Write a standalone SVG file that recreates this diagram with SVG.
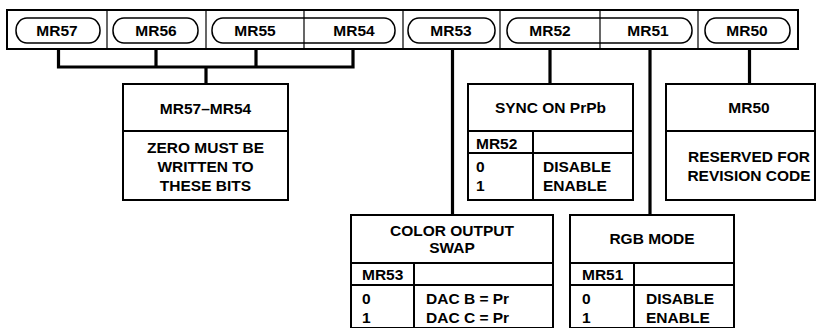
<svg xmlns="http://www.w3.org/2000/svg" width="822" height="328" viewBox="0 0 822 328">
<style>
text{font-family:"Liberation Sans",Arial,sans-serif;font-weight:bold;font-size:15.5px;fill:#000}
.c{text-anchor:middle}
.box{fill:#fff;stroke:#000;stroke-width:2}
.ln{stroke:#000;stroke-width:2;fill:none}
.thin{stroke:#000;stroke-width:1.2;fill:none}
.pill{fill:none;stroke:#000;stroke-width:1.5}
.con{stroke:#000;stroke-width:3.2;fill:none;stroke-linecap:square}
</style>
<rect x="0" y="0" width="822" height="328" fill="#fff"/>
<g id="register">
<rect x="7" y="10" width="791" height="39" fill="#fff" stroke="#000" stroke-width="2"/>
<line class="thin" x1="107" y1="10" x2="107" y2="49"/>
<line class="thin" x1="206" y1="10" x2="206" y2="49"/>
<line class="thin" x1="403" y1="10" x2="403" y2="49"/>
<line class="thin" x1="500" y1="10" x2="500" y2="49"/>
<line class="thin" x1="698" y1="10" x2="698" y2="49"/>
<rect class="pill" x="16" y="18" width="84" height="25" rx="11" ry="12"/>
<rect class="pill" x="113" y="18" width="85" height="25" rx="11" ry="12"/>
<rect class="pill" x="212" y="18" width="183" height="25" rx="11" ry="12"/>
<rect class="pill" x="408" y="18" width="87" height="25" rx="11" ry="12"/>
<rect class="pill" x="507" y="18" width="185" height="25" rx="11" ry="12"/>
<rect class="pill" x="705" y="18" width="85" height="25" rx="11" ry="12"/>
<line class="thin" x1="304" y1="10" x2="304" y2="49"/>
<line class="thin" x1="600" y1="10" x2="600" y2="49"/>
<text class="c" x="57" y="36">MR57</text>
<text class="c" x="156" y="36">MR56</text>
<text class="c" x="255" y="36">MR55</text>
<text class="c" x="354" y="36">MR54</text>
<text class="c" x="451" y="36">MR53</text>
<text class="c" x="550" y="36">MR52</text>
<text class="c" x="648" y="36">MR51</text>
<text class="c" x="747" y="36">MR50</text>
</g>
<g id="connectors">
<path class="con" d="M58.5 50V67H353V50M156 50V67M256 50V67M206 67V84"/>
<path class="con" d="M452.5 50V215"/>
<path class="con" d="M550 50V84"/>
<path class="con" d="M650 50V215"/>
<path class="con" d="M749.5 50V84"/>
</g>
<g id="box-mr57-54">
<rect class="box" x="123" y="84" width="165" height="116"/>
<line class="ln" x1="123" y1="131" x2="288" y2="131"/>
<text class="c" x="205.5" y="114">MR57–MR54</text>
<text class="c" x="205.5" y="153">ZERO MUST BE</text>
<text class="c" x="205.5" y="172">WRITTEN TO</text>
<text class="c" x="205.5" y="191">THESE BITS</text>
</g>
<g id="box-sync">
<rect class="box" x="468" y="84" width="165" height="116"/>
<line class="ln" x1="468" y1="131" x2="633" y2="131"/>
<line class="ln" x1="468" y1="153" x2="633" y2="153"/>
<line class="ln" x1="533" y1="131" x2="533" y2="200"/>
<text class="c" x="550.5" y="113">SYNC ON PrPb</text>
<text x="476" y="149">MR52</text>
<text x="476" y="172">0</text>
<text x="476" y="191">1</text>
<text x="543" y="172">DISABLE</text>
<text x="543" y="191">ENABLE</text>
</g>
<g id="box-mr50">
<rect class="box" x="666" y="84" width="149" height="116"/>
<line class="ln" x1="666" y1="131" x2="815" y2="131"/>
<text class="c" x="749" y="113">MR50</text>
<text class="c" x="749" y="162">RESERVED FOR</text>
<text class="c" x="749" y="181">REVISION CODE</text>
</g>
<g id="box-color">
<rect class="box" x="351" y="215" width="202" height="113"/>
<line class="ln" x1="351" y1="263" x2="553" y2="263"/>
<line class="ln" x1="351" y1="285" x2="553" y2="285"/>
<line class="ln" x1="414" y1="263" x2="414" y2="328"/>
<text class="c" x="452" y="236">COLOR OUTPUT</text>
<text class="c" x="452" y="253">SWAP</text>
<text x="362" y="280">MR53</text>
<text x="362" y="304">0</text>
<text x="362" y="323">1</text>
<text x="426" y="304">DAC B = Pr</text>
<text x="426" y="323">DAC C = Pr</text>
</g>
<g id="box-rgb">
<rect class="box" x="570" y="215" width="164" height="113"/>
<line class="ln" x1="570" y1="263" x2="734" y2="263"/>
<line class="ln" x1="570" y1="285" x2="734" y2="285"/>
<line class="ln" x1="634" y1="263" x2="634" y2="328"/>
<text class="c" x="652" y="244">RGB MODE</text>
<text x="582" y="280">MR51</text>
<text x="582" y="304">0</text>
<text x="582" y="323">1</text>
<text x="646" y="304">DISABLE</text>
<text x="646" y="323">ENABLE</text>
</g>
</svg>
